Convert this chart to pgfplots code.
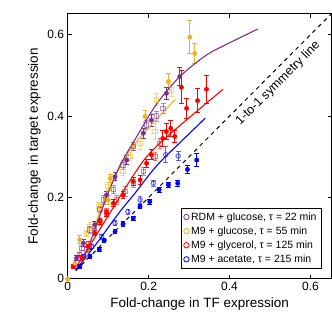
\documentclass[border=0pt]{standalone}
\usepackage{pgfplots}
\pgfplotsset{compat=1.18}
\usepackage{fontspec}
\setmainfont{Liberation Sans}
\definecolor{cpur}{RGB}{126,47,142}
\definecolor{corg}{RGB}{237,177,32}
\definecolor{cred}{RGB}{255,0,0}
\definecolor{cblu}{RGB}{0,0,255}
\pgfplotsset{
 dfill/.style={forget plot, only marks, mark=*, mark size=2.2pt, color=#1,
   error bars/.cd, y dir=both, y explicit,
   error bar style={line width=0.9pt, color=#1},
   error mark options={rotate=90, mark size=2.4pt, line width=0.9pt, color=#1}},
 dsq/.style={forget plot, only marks, mark=square, mark size=2.2pt, color=#1, opacity=0.55,
   mark options={line width=1pt},
   error bars/.cd, y dir=both, y explicit,
   error bar style={line width=0.9pt, color=#1},
   error mark options={rotate=90, mark size=2.4pt, line width=0.9pt, color=#1}},
 dcirc/.style={forget plot, only marks, mark=o, mark size=2.2pt, color=#1, opacity=0.6,
   mark options={line width=1pt},
   error bars/.cd, y dir=both, y explicit,
   error bar style={line width=0.9pt, color=#1},
   error mark options={rotate=90, mark size=2.4pt, line width=0.9pt, color=#1}},
}
\begin{document}
\begin{tikzpicture}
\path[use as bounding box] (-67.7pt,-45pt) rectangle (264.5pt,279pt);
\begin{axis}[
 at={(0pt,0pt)}, anchor=south west,
 scale only axis, width=264pt, height=265pt,
 xmin=0, xmax=0.652, ymin=0, ymax=0.651,
 xtick={0,0.2,0.4,0.6}, ytick={0,0.2,0.4,0.6},
 xticklabels={0,0.2,0.4,0.6}, yticklabels={0,0.2,0.4,0.6},
 tick align=inside, tick pos=both, major tick length=4pt,
 axis line style={line width=1pt, black},
 every tick/.style={black, line width=0.8pt},
 ticklabel style={font=\fontsize{12}{14}\selectfont},
 /pgf/number format/assume math mode=true,
 xlabel={Fold-change in TF expression},
 ylabel={Fold-change in target expression},
 label style={font=\fontsize{13.5}{15}\selectfont},
 legend style={at={(0.962,0.038)}, anchor=south east, draw=black, line width=0.8pt,
   font=\fontsize{10.5}{12}\selectfont, row sep=1pt, inner sep=2.5pt},
 legend cell align=left,
 legend image code/.code={\draw[#1] plot coordinates {(2pt,0pt)};},
]
\addlegendimage{only marks, mark=o, mark size=2.7pt, mark options={line width=0.8pt}, cpur}
\addlegendentry{RDM + glucose, τ = 22 min}
\addlegendimage{only marks, mark=o, mark size=2.7pt, mark options={line width=0.8pt}, corg}
\addlegendentry{M9 + glucose, τ = 55 min}
\addlegendimage{only marks, mark=o, mark size=2.7pt, mark options={line width=0.8pt}, cred}
\addlegendentry{M9 + glycerol, τ = 125 min}
\addlegendimage{only marks, mark=o, mark size=2.7pt, mark options={line width=0.8pt}, cblu}
\addlegendentry{M9 + acetate, τ = 215 min}

% blue
\addplot[dcirc=cblu] table[x=x,y=y,y error=e] {
x y e
0.242 0.305 0.02
0.273 0.302 0.012
0.212 0.235 0.008
0.179 0.194 0.008
0.149 0.165 0.006
0.117 0.137 0.006
0.084 0.104 0.006
0.059 0.079 0.005
0.040 0.055 0.005
};
\addplot[dfill=cblu] table[x=x,y=y,y error=e] {
x y e
0.319 0.292 0.015
0.296 0.269 0.010
0.272 0.235 0.008
0.249 0.231 0.006
0.226 0.219 0.006
0.203 0.190 0.006
0.179 0.178 0.006
0.162 0.149 0.005
0.137 0.135 0.006
0.117 0.116 0.005
0.090 0.094 0.005
0.078 0.072 0.005
0.055 0.055 0.005
0.030 0.030 0.005
};
% red
\addplot[dsq=cred] table[x=x,y=y,y error=e] {
x y e
0.228 0.333 0.012
0.216 0.300 0.010
0.187 0.264 0.010
0.162 0.235 0.010
0.142 0.215 0.012
0.121 0.194 0.010
0.096 0.165 0.008
0.080 0.140 0.008
0.051 0.087 0.006
0.030 0.060 0.006
0.014 0.030 0.005
};
\addplot[dfill=cred] table[x=x,y=y,y error=e] {
x y e
0.281 0.471 0.040
0.294 0.419 0.025
0.321 0.438 0.030
0.343 0.466 0.035
0.265 0.350 0.015
0.244 0.362 0.020
0.255 0.370 0.020
0.235 0.345 0.020
0.207 0.305 0.012
0.195 0.284 0.010
0.179 0.243 0.010
0.162 0.239 0.010
0.137 0.206 0.008
0.113 0.186 0.008
0.096 0.161 0.008
0.080 0.141 0.008
0.067 0.112 0.006
0.051 0.079 0.006
0.035 0.051 0.006
0.014 0.030 0.005
};
% orange
\addplot[dsq=corg] table[x=x,y=y,y error=e] {
x y e
0.257 0.464 0.015
0.220 0.440 0.015
0.216 0.362 0.020
0.179 0.333 0.015
0.154 0.300 0.010
0.137 0.264 0.010
0.100 0.227 0.010
0.076 0.178 0.010
0.055 0.129 0.010
0.047 0.112 0.008
};
\addplot[dfill=corg] table[x=x,y=y,y error=e] {
x y e
0.302 0.594 0.040
0.314 0.554 0.025
0.249 0.485 0.020
0.191 0.399 0.015
0.162 0.325 0.010
0.105 0.247 0.010
0.100 0.194 0.010
0.030 0.096 0.010
0.018 0.038 0.005
0.000 0.000 0.000
};
% purple
\addplot[dsq=cpur] table[x=x,y=y,y error=e] {
x y e
0.236 0.419 0.012
0.220 0.400 0.012
0.195 0.378 0.012
0.162 0.325 0.010
0.137 0.280 0.010
0.113 0.219 0.010
0.088 0.194 0.010
0.080 0.170 0.008
0.055 0.120 0.008
0.035 0.075 0.006
0.048 0.072 0.006
};
\addplot[dfill=cpur] table[x=x,y=y,y error=e] {
x y e
0.277 0.497 0.022
0.244 0.456 0.015
0.207 0.390 0.015
0.187 0.358 0.012
0.146 0.292 0.012
0.117 0.251 0.010
0.096 0.206 0.010
0.067 0.133 0.008
0.039 0.088 0.008
0.022 0.051 0.006
};
% model curves
\addplot[forget plot, cblu, line width=1.1pt, smooth] coordinates {(0.02,0.022)(0.07,0.085)(0.129,0.165)(0.166,0.21)(0.22,0.278)(0.285,0.342)(0.34,0.395)};
\addplot[forget plot, cred, line width=1.1pt, smooth] coordinates {(0.022,0.03)(0.06,0.09)(0.104,0.161)(0.15,0.235)(0.195,0.30)(0.253,0.356)(0.384,0.466)};
\addplot[forget plot, corg, line width=1.1pt, smooth] coordinates {(0.045,0.045)(0.076,0.155)(0.104,0.225)(0.15,0.31)(0.19,0.36)(0.265,0.44)};
\addplot[forget plot, cpur, line width=1.1pt, smooth] coordinates {(0.04,0.05)(0.067,0.12)(0.096,0.2)(0.13,0.28)(0.174,0.355)(0.22,0.43)(0.277,0.497)(0.343,0.55)(0.40,0.58)(0.47,0.614)};
% symmetry line
\addplot[forget plot, black, line width=1pt, dash pattern=on 4pt off 4pt] coordinates {(0.02,0.02)(0.65,0.65)};
\node[rotate=45, font=\fontsize{12.5}{14}\selectfont] at (axis cs:0.52,0.48) {1-to-1 symmetry line};
\end{axis}
\end{tikzpicture}
\end{document}
